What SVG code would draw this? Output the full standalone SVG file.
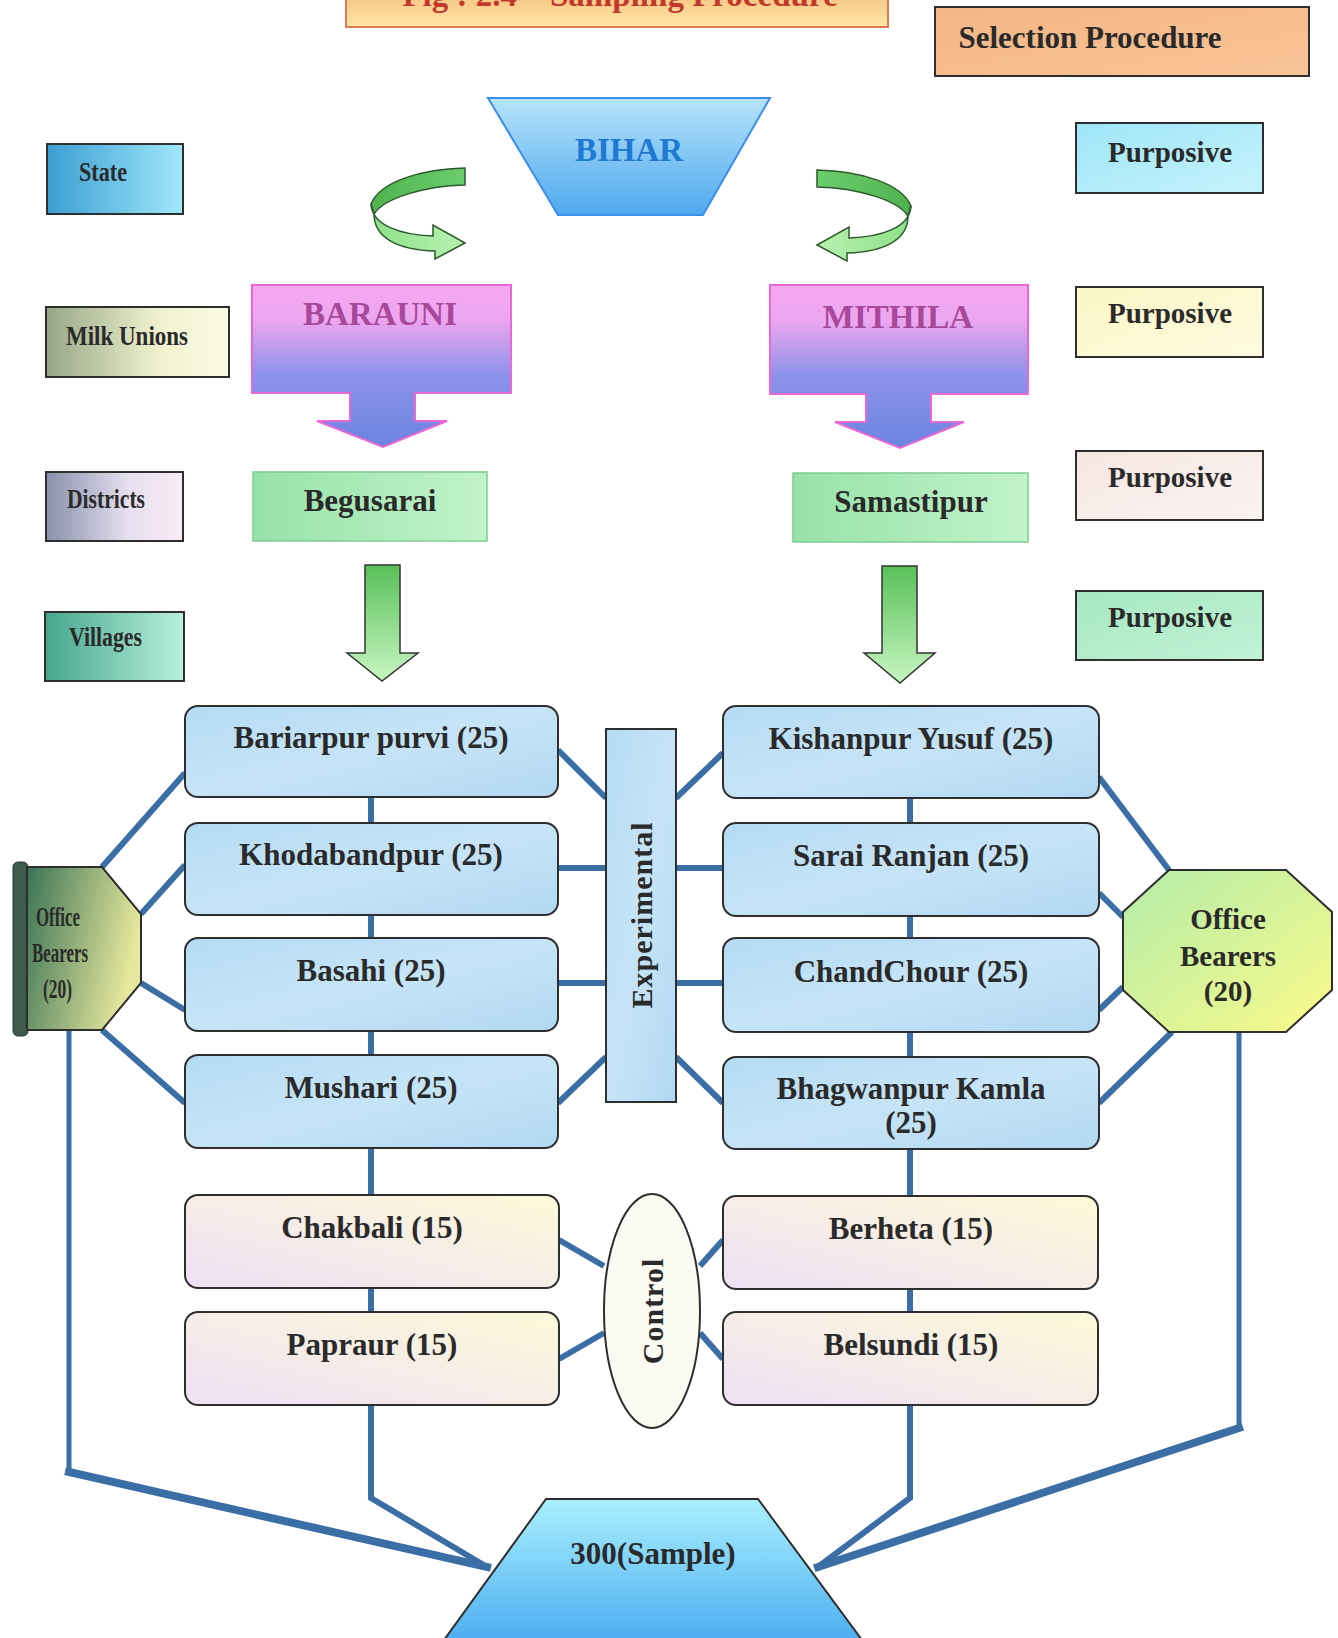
<svg xmlns="http://www.w3.org/2000/svg" width="1338" height="1638" viewBox="0 0 1338 1638">
<style>
.t{font-family:"Liberation Serif","Times New Roman",serif;font-weight:bold;fill:#2a2a2a;text-anchor:middle}
.lbl{font-family:"Liberation Serif","Times New Roman",serif;font-weight:bold;fill:#2a2a2a;font-size:28px}
.box{stroke:#2e2e2e;stroke-width:2}
.vb{fill:url(#blueBox);stroke:#2e2e2e;stroke-width:2}
.cb{fill:url(#ctrlBox);stroke:#2e2e2e;stroke-width:2}
.ln{fill:none;stroke:#3a6ea5;stroke-width:6;stroke-linejoin:miter}
.lnv{fill:none;stroke:#3a6ea5;stroke-width:5}
.lnt{fill:none;stroke:#3a6ea5;stroke-width:8;stroke-linecap:square}
</style>
<defs>
<linearGradient id="titleG" x1="0" y1="0" x2="0" y2="1"><stop offset="0" stop-color="#f9bf7e"/><stop offset="1" stop-color="#fde7a6"/></linearGradient>
<linearGradient id="selG" x1="0" y1="0" x2="1" y2="1"><stop offset="0" stop-color="#f5b585"/><stop offset="1" stop-color="#f8c596"/></linearGradient>
<linearGradient id="biharG" x1="0" y1="0" x2="0" y2="1"><stop offset="0" stop-color="#b6e4fa"/><stop offset="1" stop-color="#4fa8ef"/></linearGradient>
<linearGradient id="p1" x1="0" y1="0" x2="1" y2="1"><stop offset="0" stop-color="#9ee6f8"/><stop offset="1" stop-color="#c6f2fc"/></linearGradient>
<linearGradient id="p2" x1="0" y1="0" x2="1" y2="1"><stop offset="0" stop-color="#fbf6c6"/><stop offset="1" stop-color="#fefbe0"/></linearGradient>
<linearGradient id="p3" x1="0" y1="0" x2="1" y2="1"><stop offset="0" stop-color="#f5e6e2"/><stop offset="1" stop-color="#fbf3f0"/></linearGradient>
<linearGradient id="p4" x1="0" y1="0" x2="1" y2="1"><stop offset="0" stop-color="#a6e8c2"/><stop offset="1" stop-color="#c2f2d6"/></linearGradient>
<linearGradient id="stateG" x1="0" y1="0" x2="1" y2="0"><stop offset="0" stop-color="#3a9ed2"/><stop offset="1" stop-color="#a2e8fb"/></linearGradient>
<linearGradient id="milkG" x1="0" y1="0" x2="1" y2="0"><stop offset="0" stop-color="#96a686"/><stop offset="0.6" stop-color="#eef0cc"/><stop offset="1" stop-color="#fcfce6"/></linearGradient>
<linearGradient id="distG" x1="0" y1="0" x2="1" y2="0"><stop offset="0" stop-color="#8890aa"/><stop offset="0.6" stop-color="#e6e0f0"/><stop offset="1" stop-color="#faeaf4"/></linearGradient>
<linearGradient id="villG" x1="0" y1="0" x2="1" y2="0"><stop offset="0" stop-color="#47a68e"/><stop offset="1" stop-color="#b8f1db"/></linearGradient>
<linearGradient id="pinkG" x1="0" y1="0" x2="0" y2="1"><stop offset="0" stop-color="#f5a8f2"/><stop offset="0.22" stop-color="#eca6f0"/><stop offset="0.55" stop-color="#8e92ea"/><stop offset="1" stop-color="#6a84e0"/></linearGradient>
<linearGradient id="distBox" x1="0" y1="0" x2="1" y2="0"><stop offset="0" stop-color="#96e2a8"/><stop offset="1" stop-color="#c2f3ca"/></linearGradient>
<linearGradient id="arrG" x1="0" y1="0" x2="0" y2="1"><stop offset="0" stop-color="#58c058"/><stop offset="1" stop-color="#c8f6c2"/></linearGradient>
<linearGradient id="ribTop" x1="0" y1="0" x2="1" y2="0"><stop offset="0" stop-color="#4fb24f"/><stop offset="1" stop-color="#6ccd6c"/></linearGradient>
<linearGradient id="ribBot" x1="0" y1="0" x2="1" y2="0"><stop offset="0" stop-color="#8ee08a"/><stop offset="1" stop-color="#b8f2b0"/></linearGradient>
<linearGradient id="blueBox" x1="0" y1="0" x2="1" y2="1"><stop offset="0" stop-color="#b4dbf4"/><stop offset="0.5" stop-color="#c6e4f7"/><stop offset="1" stop-color="#b2d8f2"/></linearGradient>
<linearGradient id="ctrlBox" x1="0" y1="1" x2="1" y2="0"><stop offset="0" stop-color="#efdff5"/><stop offset="1" stop-color="#fdfad8"/></linearGradient>
<linearGradient id="lofG" x1="0" y1="0" x2="1" y2="0.3"><stop offset="0" stop-color="#3a7355"/><stop offset="1" stop-color="#e6e79c"/></linearGradient>
<linearGradient id="rofG" x1="0" y1="0" x2="1" y2="1"><stop offset="0" stop-color="#b2eca8"/><stop offset="1" stop-color="#fbfa8a"/></linearGradient>
<linearGradient id="sampG" x1="0" y1="0" x2="0" y2="1"><stop offset="0" stop-color="#aaf0fe"/><stop offset="1" stop-color="#4daef2"/></linearGradient>
<g id="ribbon">
<path d="M465,168 C420,169 380,182 371,204 L374,214 C384,198 425,186 465,185 Z" fill="url(#ribTop)" stroke="#2d5a2d" stroke-width="1.5"/>
<path d="M371,204 C372,226 402,235 433,236 L433,225 L465,243 L435,259 L435,251 C398,250 374,238 374,214 Z" fill="url(#ribBot)" stroke="#2d5a2d" stroke-width="1.5"/>
</g>
</defs>
<rect width="1338" height="1638" fill="#ffffff"/>

<g id="connectors">
<polyline class="ln" points="102,867 185,773"/>
<polyline class="ln" points="141,914 185,865"/>
<polyline class="ln" points="141,983 185,1010"/>
<polyline class="ln" points="102,1030 185,1103"/>
<polyline class="ln" points="371,797 371,1498 487,1567"/>
<polyline class="lnv" points="69,1030 69,1472"/>
<polyline class="lnt" points="69,1472 487,1567"/>
<polyline class="ln" points="558,750 606,798"/>
<polyline class="ln" points="558,868 606,868"/>
<polyline class="ln" points="558,983 606,983"/>
<polyline class="ln" points="558,1103 606,1057"/>
<polyline class="ln" points="676,798 723,753"/>
<polyline class="ln" points="676,868 723,868"/>
<polyline class="ln" points="676,983 723,983"/>
<polyline class="ln" points="676,1057 723,1103"/>
<polyline class="ln" points="910,798 910,1498 818,1567"/>
<polyline class="ln" points="1099,777 1169,870"/>
<polyline class="ln" points="1099,893 1123,917"/>
<polyline class="ln" points="1099,1010 1123,987"/>
<polyline class="ln" points="1099,1103 1172,1032"/>
<polyline class="lnv" points="1239,1032 1239,1428"/>
<polyline class="lnt" points="1239,1428 818,1567"/>
<polyline class="ln" points="559,1240 604,1266"/>
<polyline class="ln" points="559,1359 604,1333"/>
<polyline class="ln" points="700,1266 723,1240"/>
<polyline class="ln" points="700,1333 723,1359"/>
</g>

<g id="title">
<rect x="346" y="-10" width="542" height="37" fill="url(#titleG)" stroke="#e0785a" stroke-width="2"/>
<text x="620" y="6" class="t" style="font-size:33px;fill:#c0392b">Fig : 2.4 – Sampling Procedure</text>
</g>
<g id="selection-procedure">
<rect x="935" y="7" width="374" height="69" fill="url(#selG)" class="box"/>
<text x="1090" y="48" class="t" style="font-size:31px">Selection Procedure</text>
</g>

<g id="bihar">
<polygon points="488,98 770,98 703,215 558,215" fill="url(#biharG)" stroke="#3d8ee6" stroke-width="2"/>
<text x="629" y="161" class="t" style="font-size:33px;fill:#1f78d1">BIHAR</text>
</g>
<g id="arrow-left"><use href="#ribbon"/></g>
<g id="arrow-right"><use href="#ribbon" transform="translate(1282,2) scale(-1,1)"/></g>

<g id="lbl-state">
<rect x="47" y="144" width="136" height="70" fill="url(#stateG)" class="box"/>
<text x="79" y="181" class="lbl" textLength="48" lengthAdjust="spacingAndGlyphs">State</text>
</g>
<g id="lbl-milk">
<rect x="46" y="307" width="183" height="70" fill="url(#milkG)" class="box"/>
<text x="66" y="345" class="lbl" textLength="122" lengthAdjust="spacingAndGlyphs">Milk Unions</text>
</g>
<g id="lbl-districts">
<rect x="46" y="472" width="137" height="69" fill="url(#distG)" class="box"/>
<text x="67" y="508" class="lbl" textLength="78" lengthAdjust="spacingAndGlyphs">Districts</text>
</g>
<g id="lbl-villages">
<rect x="45" y="612" width="139" height="69" fill="url(#villG)" class="box"/>
<text x="69" y="646" class="lbl" textLength="73" lengthAdjust="spacingAndGlyphs">Villages</text>
</g>

<g id="purp-1">
<rect x="1076" y="123" width="187" height="70" fill="url(#p1)" class="box"/>
<text x="1170" y="162" class="t" style="font-size:29px">Purposive</text>
</g>
<g id="purp-2">
<rect x="1076" y="287" width="187" height="70" fill="url(#p2)" class="box"/>
<text x="1170" y="323" class="t" style="font-size:29px">Purposive</text>
</g>
<g id="purp-3">
<rect x="1076" y="451" width="187" height="69" fill="url(#p3)" class="box"/>
<text x="1170" y="487" class="t" style="font-size:29px">Purposive</text>
</g>
<g id="purp-4">
<rect x="1076" y="591" width="187" height="69" fill="url(#p4)" class="box"/>
<text x="1170" y="627" class="t" style="font-size:29px">Purposive</text>
</g>

<g id="barauni">
<path d="M252,285 H511 V393 H415 V421 H447 L383,447 L317,421 H350 V393 H252 Z" fill="url(#pinkG)" stroke="#e868d4" stroke-width="2"/>
<text x="380" y="325" class="t" style="font-size:33px;fill:#a8489a">BARAUNI</text>
</g>
<g id="mithila">
<path d="M770,285 H1028 V394 H931 V422 H964 L900,448 L835,422 H866 V394 H770 Z" fill="url(#pinkG)" stroke="#e868d4" stroke-width="2"/>
<text x="898" y="328" class="t" style="font-size:33px;fill:#a8489a">MITHILA</text>
</g>

<g id="begusarai">
<rect x="253" y="472" width="234" height="69" fill="url(#distBox)" stroke="#80cc90" stroke-width="1.5"/>
<text x="370" y="511" class="t" style="font-size:31px">Begusarai</text>
</g>
<g id="samastipur">
<rect x="793" y="473" width="235" height="69" fill="url(#distBox)" stroke="#80cc90" stroke-width="1.5"/>
<text x="911" y="512" class="t" style="font-size:31px">Samastipur</text>
</g>

<g id="down-left">
<path d="M365,565 H400 V653 H418 L382,681 L347,653 H365 Z" fill="url(#arrG)" stroke="#333" stroke-width="1.5"/>
</g>
<g id="down-right">
<path d="M882,566 H917 V653 H935 L900,683 L864,653 H882 Z" fill="url(#arrG)" stroke="#333" stroke-width="1.5"/>
</g>

<g id="bariarpur"><rect x="185" y="706" width="373" height="91" rx="13" class="vb"/><text x="371" y="748" class="t" style="font-size:31px">Bariarpur purvi (25)</text></g>
<g id="khodabandpur"><rect x="185" y="823" width="373" height="92" rx="13" class="vb"/><text x="371" y="865" class="t" style="font-size:31px">Khodabandpur (25)</text></g>
<g id="basahi"><rect x="185" y="938" width="373" height="93" rx="13" class="vb"/><text x="371" y="981" class="t" style="font-size:31px">Basahi (25)</text></g>
<g id="mushari"><rect x="185" y="1055" width="373" height="93" rx="13" class="vb"/><text x="371" y="1098" class="t" style="font-size:31px">Mushari (25)</text></g>

<g id="kishanpur"><rect x="723" y="706" width="376" height="92" rx="13" class="vb"/><text x="911" y="749" class="t" style="font-size:31px">Kishanpur Yusuf (25)</text></g>
<g id="sarai"><rect x="723" y="823" width="376" height="93" rx="13" class="vb"/><text x="911" y="866" class="t" style="font-size:31px">Sarai Ranjan (25)</text></g>
<g id="chandchour"><rect x="723" y="938" width="376" height="94" rx="13" class="vb"/><text x="911" y="982" class="t" style="font-size:31px">ChandChour (25)</text></g>
<g id="bhagwanpur"><rect x="723" y="1057" width="376" height="92" rx="13" class="vb"/><text x="911" y="1099" class="t" style="font-size:31px">Bhagwanpur Kamla</text><text x="911" y="1133" class="t" style="font-size:31px">(25)</text></g>

<g id="experimental">
<rect x="606" y="729" width="70" height="373" fill="url(#blueBox)" stroke="#2e2e2e" stroke-width="2"/>
<text x="0" y="0" class="t" style="font-size:30px;letter-spacing:1px" transform="translate(652,915) rotate(-90)">Experimental</text>
</g>

<g id="chakbali"><rect x="185" y="1195" width="374" height="93" rx="13" class="cb"/><text x="372" y="1238" class="t" style="font-size:31px">Chakbali (15)</text></g>
<g id="papraur"><rect x="185" y="1312" width="374" height="93" rx="13" class="cb"/><text x="372" y="1355" class="t" style="font-size:31px">Papraur (15)</text></g>
<g id="berheta"><rect x="723" y="1196" width="375" height="93" rx="13" class="cb"/><text x="911" y="1239" class="t" style="font-size:31px">Berheta (15)</text></g>
<g id="belsundi"><rect x="723" y="1312" width="375" height="93" rx="13" class="cb"/><text x="911" y="1355" class="t" style="font-size:31px">Belsundi (15)</text></g>

<g id="control">
<ellipse cx="652" cy="1311" rx="48" ry="117" fill="#fbfbf3" stroke="#2e2e2e" stroke-width="2"/>
<text x="0" y="0" class="t" style="font-size:30px;letter-spacing:1px" transform="translate(663,1311) rotate(-90)">Control</text>
</g>

<g id="office-left">
<rect x="13" y="862" width="15" height="174" rx="5" fill="#3d5a4c" stroke="#2a3a33" stroke-width="1"/>
<polygon points="27,867 102,867 141,914 141,983 102,1030 27,1030" fill="url(#lofG)" stroke="#2e2e2e" stroke-width="2"/>
<text x="36" y="926" class="lbl" style="font-size:27px" textLength="44" lengthAdjust="spacingAndGlyphs">Office</text>
<text x="32" y="962" class="lbl" style="font-size:27px" textLength="56" lengthAdjust="spacingAndGlyphs">Bearers</text>
<text x="43" y="998" class="lbl" style="font-size:27px" textLength="29" lengthAdjust="spacingAndGlyphs">(20)</text>
</g>

<g id="office-right">
<polygon points="1169,870 1286,870 1332,912 1332,990 1286,1032 1169,1032 1123,990 1123,912" fill="url(#rofG)" stroke="#2e2e2e" stroke-width="2"/>
<text x="1228" y="929" class="t" style="font-size:29px">Office</text>
<text x="1228" y="966" class="t" style="font-size:29px">Bearers</text>
<text x="1228" y="1001" class="t" style="font-size:29px">(20)</text>
</g>

<g id="sample">
<polygon points="546,1499 758,1499 862,1640 444,1640" fill="url(#sampG)" stroke="#2e2e2e" stroke-width="2"/>
<text x="653" y="1564" class="t" style="font-size:31px">300(Sample)</text>
</g>
</svg>
